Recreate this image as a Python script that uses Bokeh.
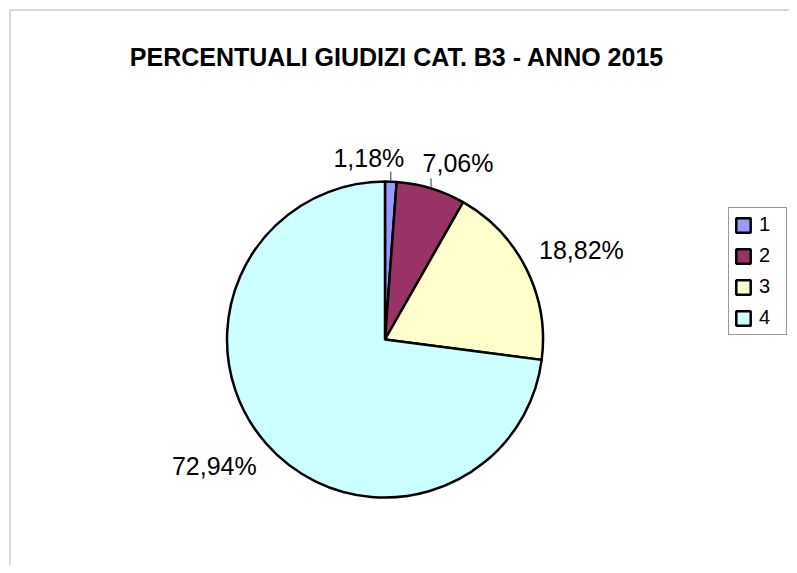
import numpy as np
from bokeh.plotting import figure
from bokeh.models import ColumnDataSource, Range1d, Legend, LegendItem, BoxAnnotation
from bokeh.embed import file_html
from bokeh.resources import INLINE
from bokeh.core.properties import value

# ---- data ----
title_text = "PERCENTUALI GIUDIZI CAT. B3 - ANNO 2015"
categories = ["1", "2", "3", "4"]
counts = [1, 6, 16, 62]
colors = ["#9999FF", "#993366", "#FFFFCC", "#CCFFFF"]

# ---- layout (pixel-like data space) ----
W, H = 789, 565
p = figure(width=W, height=H, output_backend="svg", toolbar_location=None,
           x_range=Range1d(0, W), y_range=Range1d(573 - H, 573),
           x_axis_location=None, y_axis_location=None, min_border=0)
p.grid.visible = False
p.outline_line_color = None
p.background_fill_color = "white"
p.border_fill_color = "white"

cx, cy, rad = 384.5, 234.0, 158.0

fr = np.array(counts, dtype=float) / sum(counts)
cum = np.concatenate([[0.0], np.cumsum(fr)])
start = np.pi / 2 - 2 * np.pi * cum[:-1]
end = np.pi / 2 - 2 * np.pi * cum[1:]
mid = (start + end) / 2
labels = [f"{v * 100:.2f}".replace(".", ",") + "%" for v in fr]

src = ColumnDataSource(dict(cat=categories, start=start, end=end, color=colors))
wedges = p.wedge(x=cx, y=cy, radius=rad, start_angle="start", end_angle="end",
                 direction="clock", fill_color="color", line_color="black",
                 line_width=2.5, source=src)

# label placement: point on the rim at mid-angle plus a nudge
nudge_x = [-22, 27, 55, -52]
nudge_y = [24, 25, 19.5, -22]
rim_x = cx + rad * np.cos(mid)
rim_y = cy + rad * np.sin(mid)
lab_x = rim_x + np.array(nudge_x)
lab_y = rim_y + np.array(nudge_y)

p.text(x=lab_x, y=lab_y, text=labels, text_align="center", text_baseline="middle",
       text_font=value("Liberation Sans"), text_font_size=value("25px"),
       text_color="black")

# leader lines for small slices
small = fr < 0.10
p.segment(x0=rim_x[small], y0=rim_y[small], x1=rim_x[small], y1=rim_y[small] + 10,
          line_color="#333333", line_width=1)

# title
p.text(x=[396.5], y=[573 - 56.3], text=[title_text], text_align="center",
       text_baseline="middle", text_font=value("Liberation Sans"),
       text_font_style="bold", text_font_size=value("25px"), text_color="black")

# chart frame (top and left visible; right/bottom fall outside the window)
p.add_layout(BoxAnnotation(left=9.5, right=5000, bottom=-5000, top=573 - 9.5,
                           fill_color=None, fill_alpha=0, line_color="black",
                           line_width=1))

legend = Legend(items=[LegendItem(label=c, renderers=[wedges], index=i)
                       for i, c in enumerate(categories)],
                location=(728, 565 - 335), orientation="vertical",
                glyph_width=18, glyph_height=18, label_height=20, label_width=22,
                spacing=8, padding=5, margin=0, label_standoff=7,
                label_text_font="Liberation Sans", label_text_font_size="20px",
                label_text_color="black", border_line_color="#333333",
                border_line_width=1, background_fill_color="white",
                background_fill_alpha=1.0)
p.add_layout(legend)

open("out.html", "w").write(file_html(p, INLINE))
